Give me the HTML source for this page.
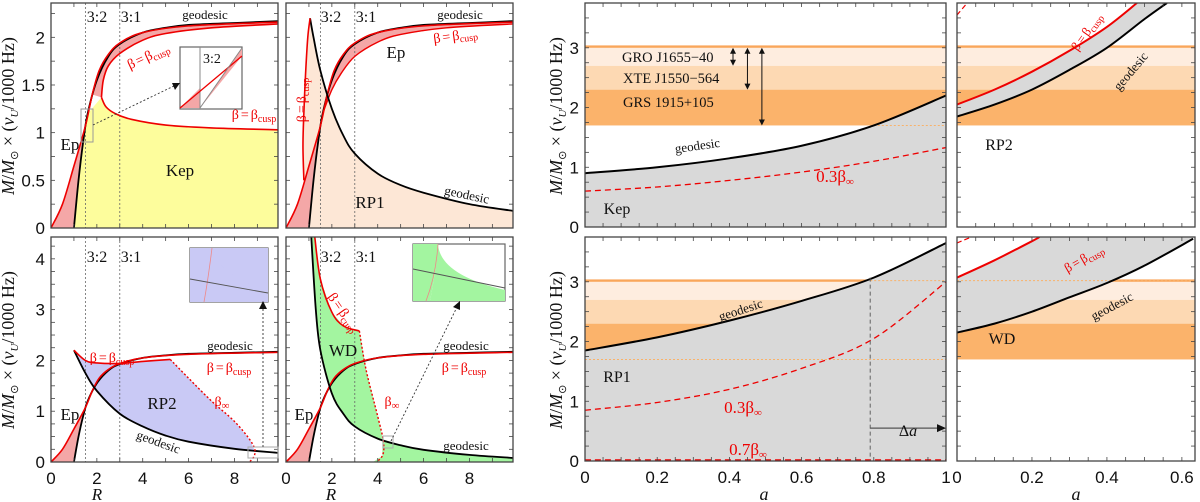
<!DOCTYPE html>
<html><head><meta charset="utf-8"><style>
html,body{margin:0;padding:0;background:#fff;}
svg{display:block;font-family:"Liberation Serif",serif;}
.tl{font-family:"Liberation Sans",sans-serif;font-size:17px;fill:#111;}
</style></head><body>
<svg id="fig" width="1200" height="502" viewBox="0 0 1200 502" xmlns="http://www.w3.org/2000/svg"></svg>
<script>
// ---------- data (curves in data coordinates) ----------
const epBlack=[[1,0],[1.2,0.5],[1.4,0.9],[1.6,1.2],[2,1.55],[2.5,1.8],[3,1.93],[4,2.05],[5,2.1],[6,2.13],[8,2.15],[9.9,2.17]];
const epRed=[[0,0],[0.5,0.25],[1,0.65],[1.5,1.07],[1.8,1.4],[2.1,1.65],[2.5,1.82],[3,1.94],[4,2.05],[6,2.12],[9.9,2.16]];
const epRedInner=[[1.6,1.2],[2,1.45],[2.4,1.62],[3,1.8],[4,1.95],[5,2.03],[7,2.1],[9.9,2.14]];
const kepCuspLow=[[2.2,1.37],[2.4,1.27],[2.8,1.2],[3.5,1.14],[5,1.08],[7,1.05],[9.9,1.03]];
const kepCuspUp=[[2.2,1.37],[2.28,1.55],[2.5,1.7],[3,1.83],[4,1.97],[5,2.04],[7,2.1],[9.9,2.14]];
const rp1Geo=[[1.05,2.2],[1.2,2.0],[1.5,1.65],[2,1.25],[2.5,0.97],[3,0.78],[4,0.57],[5,0.45],[6,0.37],[8,0.25],[9.9,0.18]];
const rp1Cusp=[[1.05,2.2],[0.95,2.0],[0.85,1.6],[0.77,1.15],[0.74,0.85],[0.78,0.5]];
const rp2Geo=[[1,2.2],[1.5,1.75],[2,1.4],[3,0.95],[4,0.7],[5,0.52],[6,0.4],[8,0.26],[9.9,0.18]];
const rp2Cusp=[[1,2.2],[1.5,2.0],[2,1.95],[3,1.94],[4,1.98],[5.2,2.02]];
const rp2Inf=[[5.2,2.02],[6,1.65],[7,1.2],[8,0.8],[8.7,0.42],[8.9,0.2],[8.7,0.02],[8.2,-0.1]];
const wdGeo=[[1.1,4.45],[1.3,3.0],[1.5,2.2],[2,1.35],[2.5,0.95],[3,0.7],[4,0.46],[5,0.33],[6,0.24],[8,0.14],[9.9,0.08]];
const wdCusp=[[1.25,4.45],[1.5,3.6],[2,2.95],[2.5,2.68],[3.2,2.58]];
const wdInf=[[3.2,2.58],[3.5,1.8],[4,0.9],[4.25,0.4],[4.2,0.12],[3.8,-0.05]];
const aKep=[0,0.2,0.4,0.6,0.8,1];
const kepGeoA=[0.9,1.0,1.15,1.36,1.7,2.2];
const kepInfA=[0.6,0.67,0.78,0.92,1.1,1.33];
const aRp1=[0,0.2,0.4,0.6,0.8,1];
const rp1GeoA=[1.85,2.07,2.35,2.68,3.07,3.65];
const rp1InfA=[0.85,0.98,1.2,1.55,2.05,3.0];
const aRp2=[0,0.1,0.2,0.3,0.4,0.5,0.56];
const rp2GeoA=[1.85,2.05,2.3,2.63,3.0,3.48,3.75];
const aRp2c=[0,0.1,0.2,0.3,0.4,0.48];
const rp2CuspA=[2.05,2.3,2.6,2.95,3.35,3.75];
const aWd=[0,0.1,0.2,0.3,0.4,0.5,0.63];
const wdGeoA=[2.15,2.3,2.5,2.74,2.98,3.27,3.72];
const aWdc=[0,0.1,0.2,0.22];
const wdCuspA=[3.07,3.36,3.68,3.75];
const bandEdges=[1.7,2.3,2.7,3.0,3.04];
const yTicksTop=["0","0.5","1","1.5","2"], yTickTopVals=[0,0.5,1,1.5,2];
const yTicksBot=["0","1","2","3","4"], yTickBotVals=[0,1,2,3,4];
const xTicksR=["0","2","4","6","8"], xTickRVals=[0,2,4,6,8];
const yTicksA=["0","1","2","3"], yTickAVals=[0,1,2,3];
const xTicksA=["0","0.2","0.4","0.6","0.8","1"], xTickAVals=[0,0.2,0.4,0.6,0.8,1];
const xTicksW=["0","0.2","0.4","0.6"], xTickWVals=[0,0.2,0.4,0.6];

const NS="http://www.w3.org/2000/svg", svg=document.getElementById('fig');
function el(tag,attrs,parent){const e=document.createElementNS(NS,tag);for(const k in attrs)e.setAttribute(k,attrs[k]);(parent||svg).appendChild(e);return e;}
function panel(px0,px1,py0,py1,xmin,xmax,ymin,ymax,name){
  const g=el('g',{});
  
  
  const cid='c'+name;const cp=el('clipPath',{id:cid},g);el('rect',{x:px0,y:py0,width:px1-px0,height:py1-py0},cp);
  const inner=el('g',{'clip-path':'url(#'+cid+')'},g);
  return {g,inner,px0,px1,py0,py1,sx:x=>px0+(x-xmin)/(xmax-xmin)*(px1-px0),sy:y=>py1-(y-ymin)/(ymax-ymin)*(py1-py0),xmin,xmax,ymin,ymax};
}
function pts(P,arr){return arr.map(p=>[P.sx(p[0]),P.sy(p[1])]);}
function zipA(xs,ys){return xs.map((x,i)=>[x,ys[i]]);}
function smooth(p){let d='M'+p[0][0]+','+p[0][1];for(let i=0;i<p.length-1;i++){const p0=p[i-1]||p[i],p1=p[i],p2=p[i+1],p3=p[i+2]||p2;d+=' C'+(p1[0]+(p2[0]-p0[0])/6)+','+(p1[1]+(p2[1]-p0[1])/6)+' '+(p2[0]-(p3[0]-p1[0])/6)+','+(p2[1]-(p3[1]-p1[1])/6)+' '+p2[0]+','+p2[1];}return d;}
function line(P,arr,stroke,w,dash,name){const a={d:smooth(pts(P,arr)),fill:'none',stroke:stroke,'stroke-width':w};if(dash)a['stroke-dasharray']=dash;const e=el('path',a,P.inner);return e;}
function area(P,arr,fill,name){const p=pts(P,arr);const e=el('path',{d:'M'+p.map(q=>q.join(',')).join(' L')+'Z',fill:fill,stroke:'none'},P.inner);return e;}
function band(P,cuts){const cols=['#fbb36b','#fdd9b3','#feeddf'];for(let i=0;i<3;i++){const r=el('rect',{x:P.px0,y:P.sy(cuts[i+1]),width:P.px1-P.px0,height:P.sy(cuts[i])-P.sy(cuts[i+1]),fill:cols[i]},P.inner);}
  const l=el('rect',{x:P.px0,y:P.sy(cuts[4]),width:P.px1-P.px0,height:P.sy(cuts[3])-P.sy(cuts[4]),fill:'#f9a65a'},P.inner);}
function frame(P,xmin,xmax,xstep,ymin,ymax,ystep){
  const f=el('rect',{x:P.px0,y:P.py0,width:P.px1-P.px0,height:P.py1-P.py0,fill:'none',stroke:'#444','stroke-width':1.3},P.g);
  
  for(let x=xmin;x<=xmax+1e-9;x+=xstep){const X=P.sx(x);el('line',{x1:X,x2:X,y1:P.py1,y2:P.py1-4,stroke:'#444','stroke-width':0.8},P.g);el('line',{x1:X,x2:X,y1:P.py0,y2:P.py0+4,stroke:'#444','stroke-width':0.8},P.g);}
  for(let y=ymin;y<=ymax+1e-9;y+=ystep){const Y=P.sy(y);el('line',{x1:P.px0,x2:P.px0+4,y1:Y,y2:Y,stroke:'#444','stroke-width':0.8},P.g);el('line',{x1:P.px1,x2:P.px1-4,y1:Y,y2:Y,stroke:'#444','stroke-width':0.8},P.g);}
}
function yLabels(P,vals,labs){vals.forEach((v,i)=>{const t=el('text',{x:P.px0-6,y:P.sy(v)+6,'text-anchor':'end',class:'tl'});t.textContent=labs[i];});}
function xLabels(P,vals,labs){vals.forEach((v,i)=>{const t=el('text',{x:P.sx(v),y:P.py1+22,'text-anchor':'middle',class:'tl'});t.textContent=labs[i];});}
function txt(x,y,s,opt,name){opt=opt||{};const a={x:x,y:y,'font-size':opt.size||16,fill:opt.fill||'#111','text-anchor':opt.anchor||'middle'};if(opt.rot)a.transform='rotate('+opt.rot+' '+x+' '+y+')';if(opt.style)a['font-style']=opt.style;const t=el('text',a);t.innerHTML=s;return t;}
function vdot(P,x){el('line',{x1:P.sx(x),x2:P.sx(x),y1:P.py0,y2:P.py1,stroke:'#666','stroke-width':0.8,'stroke-dasharray':'2,2'},P.inner);}
const BC='β<tspan dx="2">=</tspan><tspan dx="2">β</tspan><tspan font-size="10" dy="3">cusp</tspan>';
const BI='β<tspan font-size="11" dy="3">∞</tspan>';

// ---------- Panel A: Kep ----------
let A=panel(51,278,3,228,0,9.9,0,2.36,'panel-kep-r');
area(A,epBlack.slice(0,7).filter(p=>p[1]<=1.45).concat(kepCuspLow,[[9.9,0],[1,0]]),'#fdfd9c','kep-region');
area(A,epRed.concat(epBlack.slice().reverse()),'#f4a7a7','ep-band');
area(A,kepCuspUp.concat(epRed.slice(4).reverse()),'#f4a7a7','cusp-band');
vdot(A,1.5);vdot(A,3);
line(A,epBlack,'#000',1.8,null,'ep-geodesic');line(A,epRed,'#e00',1.6,null,'ep-cusp');
line(A,kepCuspLow,'#e00',1.6,null,'kep-cusp-low');line(A,kepCuspUp,'#e00',1.6,null,'kep-cusp-up');
frame(A,0,9,1,0,2.25,0.25);yLabels(A,yTickTopVals,yTicksTop);
el('rect',{x:81,y:109,width:12,height:33,fill:'none',stroke:'#999','stroke-width':1});
el('rect',{x:180,y:47,width:62,height:62,fill:'#fff',stroke:'#666','stroke-width':1.2});
el('path',{d:'M180,108 L200,108 L200,88 Z',fill:'#f4a7a7'});el('path',{d:'M200,108 L242,56 L242,48 Z',fill:'#f4a7a7'});
el('line',{x1:200,y1:47,x2:200,y2:109,stroke:'#888'});
el('line',{x1:180,y1:108,x2:242,y2:56,stroke:'#e00','stroke-width':1.3});
el('line',{x1:200,y1:108,x2:242,y2:48,stroke:'#888','stroke-width':1});
el('line',{x1:93,y1:125,x2:176,y2:85,stroke:'#333','stroke-width':0.9,'stroke-dasharray':'2,2'});
el('path',{d:'M180,83 L172,83 L175,90 Z',fill:'#111'});
txt(212,63,'3:2',{size:14});
txt(97,22,'3:2',{size:16},'resonance-label');txt(131,22,'3:1',{size:16},'resonance-label');
txt(205,19,'geodesic',{size:13});txt(150,60,BC,{size:14,fill:'#e00',rot:-25});txt(254,119,BC,{size:14,fill:'#e00'});
txt(70,150,'Ep',{size:17});txt(180,176,'Kep',{size:17},'region-label');

// ---------- Panel B: RP1 ----------
let B=panel(286,513,3,228,0,9.9,0,2.36,'panel-rp1-r');
area(B,[[1,0]].concat(rp1Cusp.slice().reverse(),rp1Geo,[[9.9,0]]),'#fde7d6','rp1-region');
area(B,epRed.concat(epBlack.slice().reverse()),'#f4a7a7','ep-band');
area(B,epRedInner.concat(epRed.slice(3).reverse()),'#f4a7a7','cusp-band');
vdot(B,1.5);vdot(B,3);
line(B,epBlack,'#000',1.8,null,'ep-geodesic');line(B,epRed,'#e00',1.6,null,'ep-cusp');line(B,epRedInner,'#e00',1.4,null,'ep-cusp-inner');
line(B,rp1Geo,'#000',1.8,null,'rp1-geodesic');line(B,rp1Cusp,'#e00',1.6,null,'rp1-cusp');
frame(B,0,9,1,0,2.25,0.25);
txt(331,22,'3:2',{size:16});txt(366,22,'3:1',{size:16});txt(460,19,'geodesic',{size:13});
txt(456,40,BC,{size:14,fill:'#e00',rot:-8});txt(396,58,'Ep',{size:17});
txt(306,100,BC,{size:14,fill:'#e00',rot:-90});txt(370,208,'RP1',{size:17},'region-label');txt(466,199,'geodesic',{size:13,rot:12});

// ---------- Panel C: RP2 (R) ----------
let C=panel(51,278,237,462,0,9.9,0,4.43,'panel-rp2-r');
area(C,rp2Cusp.concat(rp2Inf.slice(1,6),rp2Geo.slice(0,8).reverse()),'#c9c9f5','rp2-region');
area(C,epRed.concat(epBlack.slice().reverse()),'#f4a7a7','ep-band');
vdot(C,1.5);vdot(C,3);
line(C,epBlack,'#000',1.8,null,'ep-geodesic');line(C,epRed,'#e00',1.6,null,'ep-cusp');
line(C,rp2Geo,'#000',1.8,null,'rp2-geodesic');line(C,rp2Cusp,'#e00',1.6,null,'rp2-cusp');line(C,rp2Inf,'#e00',1.4,'2,2','rp2-beta-inf');
frame(C,0,9,1,0,4.25,0.25);yLabels(C,yTickBotVals,yTicksBot);xLabels(C,xTickRVals,xTicksR);
el('rect',{x:248,y:447,width:30,height:11,fill:'none',stroke:'#aaa'});
el('rect',{x:190,y:248,width:78,height:54,fill:'#fff',stroke:'#666','stroke-width':1.2});
el('path',{d:'M212,302 Q206,280 212,248 L268,248 L268,302 Z',fill:'#c9c9f5'});
el('path',{d:'M190,248 L212,248 Q213,270 268,292 L268,302 L190,302Z',fill:'#c9c9f5'});
el('path',{d:'M204,302 Q208,280 212,248',fill:'none',stroke:'#e88','stroke-width':0.8});
el('line',{x1:190,y1:279,x2:268,y2:293,stroke:'#555','stroke-width':0.9});
el('line',{x1:263,y1:447,x2:263,y2:308,stroke:'#333','stroke-width':0.9,'stroke-dasharray':'2,2'});el('path',{d:'M263,301 L259,309 L267,309Z',fill:'#111'});
txt(97,262,'3:2',{size:16});txt(131,262,'3:1',{size:16});txt(230,350,'geodesic',{size:13});
txt(112,362,BC,{size:14,fill:'#e00'});txt(229,372,BC,{size:14,fill:'#e00'});txt(162,409,'RP2',{size:17},'region-label');
txt(222,406,BI,{size:14,fill:'#e00'});txt(70,420,'Ep',{size:17});txt(157,446,'geodesic',{size:13,rot:20});
txt(97,500,'R',{size:17,style:'italic'},'x-axis-title');

// ---------- Panel D: WD (R) ----------
let D=panel(286,513,237,462,0,9.9,0,4.43,'panel-wd-r');
area(D,wdCusp.concat(wdInf.slice(1,4),[[4.25,0.42]],wdGeo.slice(0,7).reverse()),'#a3f5a0','wd-region');
area(D,[[4.2,0.45],[5,0.33],[6,0.24],[8,0.14],[9.9,0.08],[9.9,0],[3.8,0],[4.2,0.12]],'#a3f5a0','wd-region-tail');
area(D,epRed.concat(epBlack.slice().reverse()),'#f4a7a7','ep-band');
vdot(D,1.5);vdot(D,3);
line(D,epBlack,'#000',1.8,null,'ep-geodesic');line(D,epRed,'#e00',1.6,null,'ep-cusp');
line(D,wdGeo,'#000',1.8,null,'wd-geodesic');line(D,wdCusp,'#e00',1.6,null,'wd-cusp');line(D,wdInf,'#e00',1.4,'2,2','wd-beta-inf');
frame(D,0,9,1,0,4.25,0.25);xLabels(D,xTickRVals,xTicksR);
el('rect',{x:383,y:436,width:10,height:12,fill:'none',stroke:'#aaa'});
el('rect',{x:413,y:244,width:92,height:57,fill:'#fff',stroke:'#666','stroke-width':1.2});
el('path',{d:'M413,244 L438,244 Q440,275 505,290 L505,301 L430,301 Q436,270 438,244Z',fill:'#a3f5a0'});
el('path',{d:'M413,244 L438,244 Q436,270 430,301 L413,301Z',fill:'#a3f5a0'});
el('path',{d:'M426,301 Q436,275 438,244',fill:'none',stroke:'#e88','stroke-width':0.8});
el('line',{x1:413,y1:269,x2:505,y2:288,stroke:'#555','stroke-width':0.9});
el('line',{x1:391,y1:441,x2:457,y2:307,stroke:'#333','stroke-width':0.9,'stroke-dasharray':'2,2'});el('path',{d:'M460,301 L453,307 L460,310Z',fill:'#111'});
txt(331,262,'3:2',{size:16});txt(366,262,'3:1',{size:16});txt(340,315,BC,{size:14,fill:'#e00',rot:55});
txt(343,356,'WD',{size:17},'region-label');txt(466,350,'geodesic',{size:13});txt(464,372,BC,{size:14,fill:'#e00'});
txt(392,406,BI,{size:14,fill:'#e00'});txt(304,420,'Ep',{size:17});txt(466,450,'geodesic',{size:13});
txt(331,500,'R',{size:17,style:'italic'},'x-axis-title');

// ---------- Right top: Kep vs a ----------
let E=panel(585,946,3,227,0,1,0,3.75,'panel-kep-a');
band(E,bandEdges);
area(E,zipA(aKep,kepGeoA).concat([[1,0],[0,0]]),'#d9d9d9','kep-region');
el('line',{x1:E.sx(0.8),x2:946,y1:E.sy(1.7),y2:E.sy(1.7),stroke:'#f9b26a','stroke-dasharray':'2,2'},E.inner);
line(E,zipA(aKep,kepGeoA),'#000',2,null,'kep-geodesic');line(E,zipA(aKep,kepInfA),'#e00',1.3,'6,4','kep-0.3-beta-inf');
frame(E,0,1,0.05,0,3.75,0.25);yLabels(E,yTickAVals,yTicksA);
[[0.41,2.7,3.0],[0.45,2.3,3.0],[0.49,1.7,3.0]].forEach(r=>{const X=E.sx(r[0]),Y1=E.sy(r[2]),Y2=E.sy(r[1]);el('line',{x1:X,x2:X,y1:Y1+5,y2:Y2-5,stroke:'#111','stroke-width':1});el('path',{d:`M${X},${Y1} l-3,6 h6Z M${X},${Y2} l-3,-6 h6Z`,fill:'#111'});});
txt(622,62,'GRO J1655−40',{size:14.5,anchor:'start'},'source-label');txt(623,83,'XTE J1550−564',{size:14.5,anchor:'start'},'source-label');txt(623,107,'GRS 1915+105',{size:14.5,anchor:'start'},'source-label');
txt(698,150,'geodesic',{size:13,rot:-8});txt(835,182,'0.3'+BI,{size:17,fill:'#e00'});txt(617,214,'Kep',{size:16},'region-label');

// ---------- Right top: RP2 vs a ----------
let F=panel(957,1195,3,227,0,0.635,0,3.75,'panel-rp2-a');
band(F,bandEdges);
area(F,zipA(aRp2c,rp2CuspA).concat([[0.56,3.75]],zipA(aRp2,rp2GeoA).reverse()),'#d9d9d9','rp2-region');
line(F,zipA(aRp2,rp2GeoA),'#000',2,null,'rp2-geodesic');line(F,zipA(aRp2c,rp2CuspA),'#e00',2,null,'rp2-cusp');
line(F,[[0,3.55],[0.03,3.77]],'#e00',1.2,'5,3','rp2-beta-inf');
frame(F,0,0.6,0.05,0,3.75,0.25);
txt(1090,34,BC,{size:13,fill:'#e00',rot:-55});txt(1134,74,'geodesic',{size:13,rot:-50});txt(999,150,'RP2',{size:16},'region-label');

// ---------- Right bottom: RP1 vs a ----------
let G=panel(585,946,237,461,0,1,0,3.75,'panel-rp1-a');
band(G,bandEdges);
area(G,zipA(aRp1,rp1GeoA).concat([[1,0],[0,0]]),'#d9d9d9','rp1-region');
el('line',{x1:585,x2:946,y1:G.sy(1.7),y2:G.sy(1.7),stroke:'#f9b26a','stroke-dasharray':'2,2'},G.inner);
el('line',{x1:G.sx(0.79),x2:946,y1:G.sy(3.02),y2:G.sy(3.02),stroke:'#f9b26a','stroke-dasharray':'2,2'},G.inner);
line(G,zipA(aRp1,rp1GeoA),'#000',2,null,'rp1-geodesic');line(G,zipA(aRp1,rp1InfA),'#e00',1.3,'6,4','rp1-0.3-beta-inf');
line(G,[[0,0.01],[1,0.01]],'#e00',2.2,'6,4','rp1-0.7-beta-inf');
el('line',{x1:G.sx(0.79),x2:G.sx(0.79),y1:G.sy(3.07),y2:G.sy(0),stroke:'#555','stroke-width':0.9,'stroke-dasharray':'4,3'},G.inner);
el('line',{x1:G.sx(0.79),x2:940,y1:G.sy(0.55),y2:G.sy(0.55),stroke:'#555','stroke-width':1.2});el('path',{d:`M946,${G.sy(0.55)} l-9,-4 v8Z`,fill:'#111'});
frame(G,0,1,0.05,0,3.75,0.25);yLabels(G,yTickAVals,yTicksA);xLabels(G,xTickAVals,xTicksA);
txt(742,314,'geodesic',{size:13,rot:-18});txt(617,382,'RP1',{size:16},'region-label');txt(743,413,'0.3'+BI,{size:17,fill:'#e00'});
txt(908,436,'Δ<tspan font-style="italic">a</tspan>',{size:16});txt(748,455,'0.7'+BI,{size:17,fill:'#e00'});
txt(764,500,'a',{size:18,style:'italic'},'x-axis-title');

// ---------- Right bottom: WD vs a ----------
let H=panel(957,1195,237,461,0,0.635,0,3.75,'panel-wd-a');
band(H,bandEdges);
area(H,zipA(aWd,wdGeoA).concat([[0.635,3.8],[0.22,3.8]],zipA(aWdc,wdCuspA).reverse()),'#d9d9d9','wd-region');
el('line',{x1:957,x2:1195,y1:H.sy(3.02),y2:H.sy(3.02),stroke:'#f9b26a','stroke-dasharray':'2,2'},H.inner);
line(H,zipA(aWd,wdGeoA),'#000',2,null,'wd-geodesic');line(H,zipA(aWdc,wdCuspA),'#e00',2,null,'wd-cusp');
line(H,[[0,3.65],[0.05,3.78]],'#e00',1.2,'5,3','wd-beta-inf');
frame(H,0,0.6,0.05,0,3.75,0.25);xLabels(H,xTickWVals,xTicksW);
txt(1086,262,BC,{size:13,fill:'#e00',rot:-30});txt(1114,310,'geodesic',{size:13,rot:-28});txt(1002,344,'WD',{size:16},'region-label');
txt(1076,500,'a',{size:18,style:'italic'},'x-axis-title');

// ---------- y-axis titles ----------
const YT='<tspan font-style="italic">M</tspan>/<tspan font-style="italic">M</tspan><tspan font-size="11" dy="4">⊙</tspan><tspan dy="-4"> × (</tspan><tspan font-style="italic">ν</tspan><tspan font-size="11" font-style="italic" dy="4">U</tspan><tspan dy="-4">/1000 Hz)</tspan>';
[[14,116],[14,350],[562,116],[562,350]].forEach(p=>txt(p[0],p[1],YT,{size:18,rot:-90},'y-axis-title'));
</script>
</body></html>
